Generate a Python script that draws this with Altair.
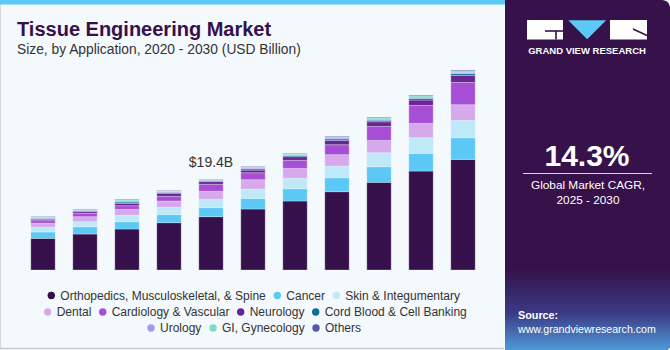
import altair as alt
import pandas as pd

# ---------------- data ----------------
years = ["2020", "2021", "2022", "2023", "2024", "2025", "2026", "2027", "2028", "2029", "2030"]
categories = [
    "Orthopedics, Musculoskeletal, & Spine", "Cancer", "Skin & Integumentary",
    "Dental", "Cardiology & Vascular", "Neurology", "Cord Blood & Cell Banking",
    "Urology", "GI, Gynecology", "Others",
]
colors = ["#36104a", "#5bc8f5", "#bde9f9", "#d6a9ec", "#a64fd6",
          "#6a2494", "#0c7191", "#9c9cf5", "#7dddca", "#5a55a8"]

ortho   = [6.75, 7.67, 8.74, 10.09, 11.37, 13.00, 14.71, 16.70, 18.69, 21.10, 23.59]
cancer  = [1.35, 1.56, 1.56, 1.71, 1.92, 2.27, 2.63, 2.98, 3.34, 3.77, 4.62]
skin    = [1.00, 1.07, 1.35, 1.56, 1.78, 1.99, 2.20, 2.49, 2.98, 3.34, 3.70]
dental  = [0.85, 1.07, 1.28, 1.35, 1.71, 1.99, 2.13, 2.42, 2.63, 3.06, 3.34]
cardio  = [0.57, 0.71, 0.78, 1.00, 1.49, 1.49, 1.71, 2.13, 2.98, 3.84, 4.76]
neuro   = [0.28, 0.36, 0.50, 0.64, 0.57, 0.57, 0.78, 0.92, 0.99, 1.14, 1.49]
cord    = [0.20, 0.18, 0.28, 0.20, 0.18, 0.25, 0.25, 0.30, 0.32, 0.35, 0.38]
urology = [0.16, 0.14, 0.22, 0.16, 0.14, 0.20, 0.20, 0.23, 0.25, 0.27, 0.28]
gi      = [0.18, 0.16, 0.22, 0.18, 0.16, 0.22, 0.22, 0.26, 0.28, 0.30, 0.32]
others  = [0.10, 0.09, 0.13, 0.10, 0.09, 0.11, 0.11, 0.13, 0.14, 0.15, 0.16]
series = [ortho, cancer, skin, dental, cardio, neuro, cord, urology, gi, others]

label_year = "2024"
label_text = "$19.4B"

legend_rows = [
    categories[0:3],
    categories[3:7],
    categories[7:10],
]

cagr_text = "14.3%"
cagr_sub1 = "Global  Market CAGR,"
cagr_sub2 = "2025 - 2030"

rows = []
for ci, (cat, vals) in enumerate(zip(categories, series)):
    for y, v in zip(years, vals):
        rows.append({"year": y, "cat": cat, "value": v, "order": ci})
df = pd.DataFrame(rows)
totals = df.groupby("year", as_index=False)["value"].sum()
lab_df = totals[totals["year"] == label_year].assign(label=label_text)

# ---------------- layout ----------------
L, T = 22, 59
W, H = 462, 211
FONT = "Liberation Sans"
one = alt.Data(values=[{"a": 1}])

x_enc = alt.X("year:N", sort=years,
              scale=alt.Scale(paddingInner=0.42, paddingOuter=0.21),
              axis=alt.Axis(title=None, labelAngle=0, ticks=False, tickSize=0, domain=False,
                            labelFontSize=12.5, labelColor="#333333", labelFont=FONT,
                            labelPadding=3, grid=False))
y_scale = alt.Scale(domain=[0, 45], nice=False)


def box(x1, y1, x2, y2, color, **kw):
    return alt.Chart(one).mark_rect(color=color, **kw).encode(
        x=alt.value(x1 - L), x2=alt.value(x2 - L),
        y=alt.value(y1 - T), y2=alt.value(y2 - T))


def line(x1, y1, x2, y2, color, width=1.0):
    return alt.Chart(one).mark_rule(color=color, strokeWidth=width).encode(
        x=alt.value(x1 - L), x2=alt.value(x2 - L),
        y=alt.value(y1 - T), y2=alt.value(y2 - T))


def text(s, X, Y, size, color, weight="normal", align="left", font=FONT):
    return alt.Chart(one).mark_text(text=s, fontSize=size, color=color, fontWeight=weight,
                                    align=align, baseline="alphabetic", font=font).encode(
        x=alt.value(X - L), y=alt.value(Y - T))


decor = [
    # left card border and top strip
    box(0, 0, 504, 350, "#f4f9fd"),
    line(0.5, 0, 0.5, 349, "#d6d9dc"),
    line(0, 348.5, 504, 348.5, "#c9ccd0", 1.5),
    box(0, 0, 505, 4.5, "#5bc8f5"),
    # right panel
    box(505, 0, 670, 350, "#36114a", cornerRadiusTopRight=8, cornerRadiusBottomRight=4),
    alt.Chart(one).mark_rect(
        color=alt.Gradient(gradient="linear", x1=0, x2=0, y1=0, y2=1,
                           stops=[alt.GradientStop(offset=0, color="#36114a"),
                                  alt.GradientStop(offset=0.55, color="#3a3a84"),
                                  alt.GradientStop(offset=1, color="#4f9ad6")]),
        cornerRadiusBottomRight=4).encode(
        x=alt.value(505 - L), x2=alt.value(670 - L),
        y=alt.value(268 - T), y2=alt.value(350 - T)),
    # logo
    box(527, 20, 563, 39.5, "#ffffff"),
    line(545, 31, 563, 31, "#36114a", 1.6),
    line(556, 31, 556, 39.5, "#36114a", 1.6),
    alt.Chart(one).mark_point(shape="M-1,-0.5L1,-0.5L0,0.5Z", size=1440, filled=True,
                              opacity=1, color="#5bc8f5", strokeWidth=0).encode(
        x=alt.value(587.2 - L), y=alt.value(29.7 - T)),
    box(610, 20, 647, 39.5, "#ffffff"),
    line(633, 29, 647, 35.5, "#36114a", 1.6),
    text("GRAND VIEW RESEARCH", 587, 53.5, 9.5, "#ffffff", "bold", "center"),
    # CAGR
    text(cagr_text, 587, 166, 30, "#ffffff", "bold", "center"),
    line(523, 173.5, 652, 173.5, "#d9d2e2", 1),
    text(cagr_sub1, 588, 189, 11.8, "#ffffff", "normal", "center"),
    text(cagr_sub2, 588, 204, 11.8, "#ffffff", "normal", "center"),
    # source
    text("Source:", 518, 319, 10.8, "#ffffff", "bold"),
    text("www.grandviewresearch.com", 518, 333, 10.6, "#ffffff"),
    # titles
    text("Tissue Engineering Market", 17, 36, 20, "#36104a", "bold"),
    text("Size, by Application, 2020 - 2030 (USD Billion)", 17, 53.5, 13.8, "#333333"),
]

bars = alt.Chart(df).mark_bar(stroke="#f4f9fd", strokeWidth=0.3).encode(
    x=x_enc,
    y=alt.Y("value:Q", stack="zero", scale=y_scale, axis=None),
    color=alt.Color("cat:N", scale=alt.Scale(domain=categories, range=colors), legend=None),
    order=alt.Order("order:Q", sort="ascending"),
)

bar_label = alt.Chart(lab_df).mark_text(
    fontSize=14, color="#333333", font=FONT, baseline="alphabetic", dy=-12
).encode(x=alt.X("year:N", sort=years), y=alt.Y("value:Q", scale=y_scale), text="label:N")

legend_pos = [(23.3, 230.5), (19.7, 247), (123, 263)]
legend_layers = []
for i, (cats, (lx, ly)) in enumerate(zip(legend_rows, legend_pos)):
    cols = [colors[categories.index(c)] for c in cats]
    ldf = pd.DataFrame({f"c{i}": cats})
    legend_layers.append(
        alt.Chart(ldf).mark_point(filled=True, opacity=0).encode(
            color=alt.Color(f"c{i}:N",
                            scale=alt.Scale(domain=cats, range=cols),
                            legend=alt.Legend(orient="none", legendX=lx, legendY=ly,
                                              direction="horizontal", title=None,
                                              symbolType="circle", symbolSize=55,
                                              symbolOpacity=1, symbolStrokeWidth=0,
                                              labelFontSize=12, labelFont=FONT,
                                              labelColor="#333333", labelOffset=3,
                                              labelLimit=400,
                                              columnPadding=5, padding=0)),
            x=alt.value(0), y=alt.value(0))
    )

chart = alt.layer(*decor, bars, bar_label, *legend_layers).resolve_scale(
    color="independent"
).properties(
    width=W, height=H,
    autosize=alt.AutoSizeParams(type="none"),
    padding={"left": L, "top": T, "right": 670 - L - W, "bottom": 350 - T - H},
    background="#f4f9fd",
).configure_view(strokeWidth=0)

chart.save("out.html", embed_options={"renderer": "svg", "actions": False})
